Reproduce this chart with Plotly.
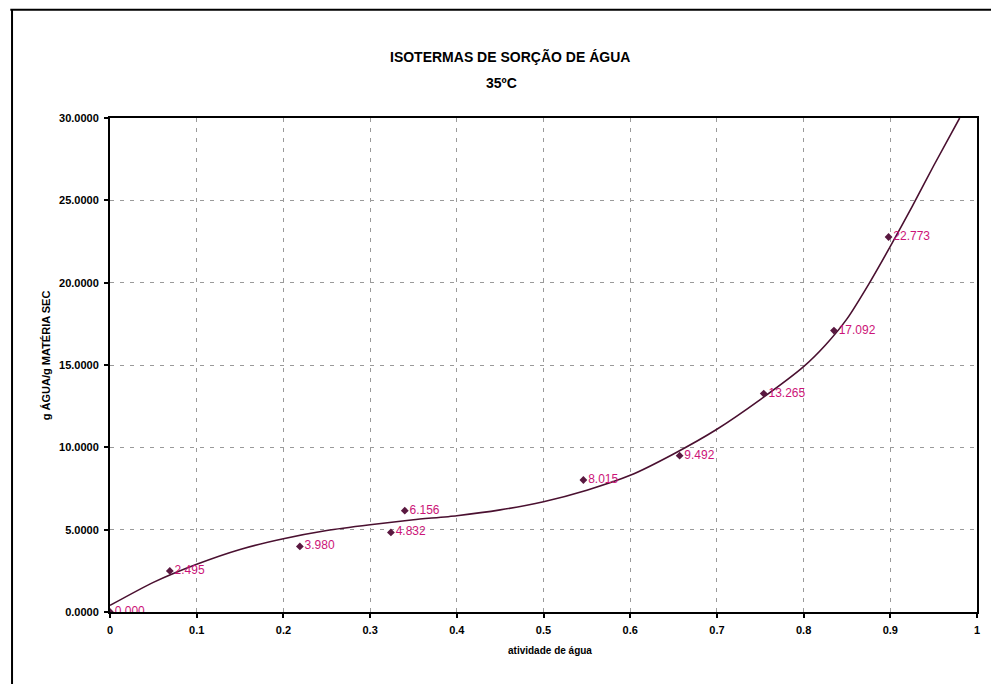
import plotly.graph_objects as go

# Measured sorption points at 35 °C
aw_points = [0.0, 0.069, 0.219, 0.324, 0.340, 0.546, 0.657, 0.754, 0.835, 0.898]
moisture_points = [0.000, 2.495, 3.980, 4.832, 6.156, 8.015, 9.492, 13.265, 17.092, 22.773]
point_labels = ["0.000", "2.495", "3.980", "4.832", "6.156", "8.015", "9.492", "13.265", "17.092", "22.773"]

# Trend line through the isotherm
aw_trend = [0.0, 0.05, 0.1, 0.15, 0.2, 0.25, 0.3, 0.35, 0.4, 0.45, 0.5, 0.55,
            0.6, 0.65, 0.7, 0.75, 0.8, 0.825, 0.85, 0.875, 0.9, 0.925, 0.95, 0.98]
moisture_trend = [0.4, 1.8, 2.9, 3.8, 4.45, 4.95, 5.3, 5.6, 5.85, 6.2, 6.7, 7.4,
                  8.3, 9.6, 11.1, 12.9, 14.9, 16.2, 17.8, 19.9, 22.2, 24.6, 27.1, 30.0]

x_ticks = [0, 0.1, 0.2, 0.3, 0.4, 0.5, 0.6, 0.7, 0.8, 0.9, 1]
x_tick_text = ["0", "0.1", "0.2", "0.3", "0.4", "0.5", "0.6", "0.7", "0.8", "0.9", "1"]
y_ticks = [0, 5, 10, 15, 20, 25, 30]
y_tick_text = ["0.0000", "5.0000", "10.0000", "15.0000", "20.0000", "25.0000", "30.0000"]

FONT = "Liberation Sans Narrow, Liberation Sans, Arial"
LINE_COLOR = "#4a1030"
LABEL_COLOR = "#cc1478"

fig = go.Figure()

fig.add_trace(go.Scatter(
    x=aw_trend, y=moisture_trend, mode="lines",
    line=dict(color=LINE_COLOR, width=1.6, shape="spline", smoothing=0.6),
    hoverinfo="skip", showlegend=False,
))

fig.add_trace(go.Scatter(
    x=aw_points, y=moisture_points, mode="markers+text",
    marker=dict(symbol="diamond", size=6, color="#5a1840"),
    text=point_labels, textposition="middle right",
    textfont=dict(family=FONT, size=12, color=LABEL_COLOR),
    showlegend=False,
))

axis_common = dict(
    showline=True, linecolor="black", linewidth=2, mirror=True,
    ticks="outside", ticklen=4, tickcolor="black", tickwidth=1.5,
    showgrid=True, gridcolor="#9a9a9a", gridwidth=1, griddash="4px,6px",
    zeroline=False,
    tickfont=dict(family=FONT, size=11, color="black", weight="bold"),
)

fig.update_xaxes(range=[0, 1], tickvals=x_ticks, ticktext=x_tick_text,
                 ticklabelstandoff=3, **axis_common)
fig.update_yaxes(range=[0, 30], tickvals=y_ticks, ticktext=y_tick_text,
                 ticklabelstandoff=3, **axis_common)

annotations = [
    dict(text="<b>ISOTERMAS DE SORÇÃO DE ÁGUA</b>", x=0.461, y=1.145,
         xref="paper", yref="paper", showarrow=False,
         font=dict(family=FONT, size=14, color="black")),
    dict(text="<b>35ºC</b>", x=0.452, y=1.092,
         xref="paper", yref="paper", showarrow=False,
         font=dict(family=FONT, size=14, color="black")),
    dict(text="<b>atividade de água</b>", x=0.507, y=-0.094,
         xref="paper", yref="paper", showarrow=False,
         font=dict(family=FONT, size=10, color="black")),
    dict(text="<b>g ÁGUA/g MATÉRIA SEC</b>", x=-0.083, y=0.52,
         xref="paper", yref="paper", showarrow=False, textangle=-90,
         font=dict(family=FONT, size=11, color="black")),
]

# Outer frame of the chart sheet (top and left edges)
shapes = [
    dict(type="line", xref="paper", yref="paper", x0=-0.115, x1=1.02, y0=1.219, y1=1.219,
         line=dict(color="black", width=2)),
    dict(type="line", xref="paper", yref="paper", x0=-0.113, x1=-0.113, y0=1.219, y1=-0.15,
         line=dict(color="black", width=2)),
]

fig.update_layout(
    width=991, height=684,
    margin=dict(l=110, r=14, t=118, b=72),
    paper_bgcolor="white", plot_bgcolor="white",
    annotations=annotations, shapes=shapes,
    showlegend=False,
)

fig.write_html("out.html")
